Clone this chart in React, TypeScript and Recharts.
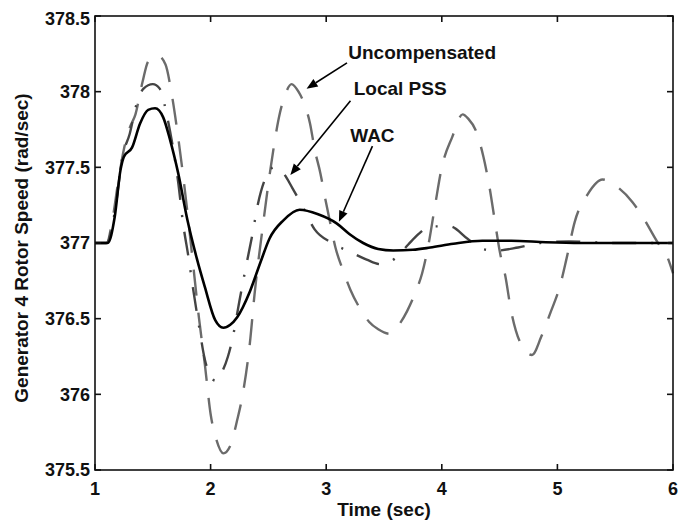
import { LineChart, Line, XAxis, YAxis, ReferenceLine, ReferenceDot, Label } from "recharts";

// time (sec) / rotor speed (rad/sec)
const uncompTime = [1.0, 1.1, 1.15, 1.2, 1.25, 1.3, 1.35, 1.41, 1.46, 1.54, 1.61, 1.66, 1.71, 1.75, 1.8, 1.85, 1.9, 1.95, 2.0, 2.05, 2.11, 2.17, 2.23, 2.28, 2.34, 2.38, 2.45, 2.52, 2.6, 2.65, 2.7, 2.76, 2.82, 2.86, 2.9, 2.95, 2.99, 3.03, 3.08, 3.14, 3.21, 3.29, 3.37, 3.45, 3.55, 3.62, 3.7, 3.77, 3.83, 3.88, 3.94, 4.0, 4.09, 4.18, 4.23, 4.29, 4.36, 4.41, 4.46, 4.5, 4.55, 4.6, 4.68, 4.78, 4.86, 4.94, 5.02, 5.08, 5.15, 5.26, 5.39, 5.5, 5.65, 5.74, 5.87, 5.95, 6.0];
const uncompSpeed = [377.0, 377.0, 377.15, 377.4, 377.62, 377.76, 377.85, 378.06, 378.2, 378.24, 378.18, 378.0, 377.75, 377.52, 377.2, 376.85, 376.5, 376.2, 375.87, 375.7, 375.61, 375.66, 375.83, 376.01, 376.34, 376.66, 377.1, 377.5, 377.86, 377.99, 378.05, 378.0, 377.9, 377.79, 377.62, 377.46, 377.3, 377.15, 376.97, 376.83, 376.69, 376.57, 376.48, 376.43, 376.4, 376.45, 376.55, 376.67, 376.8, 376.97, 377.24, 377.5, 377.7, 377.85, 377.82, 377.75, 377.57, 377.38, 377.14, 376.95, 376.78, 376.55, 376.34, 376.26, 376.38, 376.54, 376.71, 376.9, 377.14, 377.32, 377.42, 377.38, 377.27, 377.17, 377.0, 376.91, 376.8];

const pssTime = [1.0, 1.1, 1.17, 1.24, 1.3, 1.36, 1.42, 1.5, 1.56, 1.62, 1.67, 1.72, 1.76, 1.81, 1.85, 1.9, 1.95, 2.0, 2.04, 2.1, 2.15, 2.19, 2.25, 2.3, 2.36, 2.41, 2.47, 2.55, 2.62, 2.71, 2.79, 2.9, 3.05, 3.21, 3.35, 3.47, 3.6, 3.71, 3.8, 3.9, 4.07, 4.22, 4.35, 4.47, 4.66, 4.85, 5.1, 5.5, 6.0];
const pssSpeed = [377.0, 377.0, 377.2, 377.58, 377.72, 377.92, 378.02, 378.05, 378.02, 377.85, 377.65, 377.4, 377.14, 376.9, 376.69, 376.45, 376.23, 376.12, 376.09, 376.15, 376.25, 376.37, 376.62, 376.82, 377.05, 377.26, 377.42, 377.5, 377.47, 377.36, 377.25, 377.09, 377.0, 376.94, 376.89, 376.86, 376.9, 376.99, 377.06, 377.11, 377.11, 377.03, 376.96, 376.95, 376.97, 377.0, 377.01, 377.0, 377.0];

const wacTime = [1.0, 1.11, 1.17, 1.22, 1.25, 1.32, 1.39, 1.46, 1.52, 1.59, 1.65, 1.72, 1.8, 1.88, 1.95, 2.04, 2.11, 2.17, 2.23, 2.34, 2.43, 2.51, 2.63, 2.77, 2.93, 3.09, 3.2, 3.32, 3.45, 3.58, 3.75, 3.9, 4.1, 4.35, 4.6, 4.9, 5.2, 6.0];
const wacSpeed = [377.0, 377.0, 377.17, 377.48, 377.57, 377.63, 377.79, 377.88, 377.89, 377.83, 377.68, 377.46, 377.15, 376.9, 376.71, 376.49, 376.44, 376.46, 376.51, 376.68, 376.87, 377.03, 377.15, 377.22, 377.19, 377.13, 377.06, 377.0, 376.96, 376.95, 376.955, 376.97, 376.995, 377.015, 377.015, 377.005, 377.0, 377.0];

const xTicks = [1, 2, 3, 4, 5, 6];
const yTicks = [375.5, 376, 376.5, 377, 377.5, 378, 378.5];
const xRange = [1, 6];
const yRange = [375.5, 378.5];

// annotation text positions + arrow segments, in data units
const noteText = ["Uncompensated", "Local PSS", "WAC"];
const noteTextAt = [[3.83, 378.26], [3.64, 378.02], [3.4, 377.71]];
const noteArrows = [
  [[3.18, 378.19], [2.83, 378.02]],
  [[3.21, 377.94], [2.69, 377.45]],
  [[3.4, 377.64], [3.11, 377.14]],
];

const zip = (t: number[], v: number[]) => t.map((x, i) => ({ t: x, v: v[i] }));
const uncompData = zip(uncompTime, uncompSpeed);
const pssData = zip(pssTime, pssSpeed);
const wacData = zip(wacTime, wacSpeed);

const FONT = "'Liberation Sans', Arial, sans-serif";
const axisColor = "#111";
const TICK = 6;

// chart box and margins; the plot area follows from these
const W = 684;
const H = 515;
const margin = { top: 8, right: 19, left: 27, bottom: 23 };
const Y_AXIS_W = 60;
const X_AXIS_H = 30;
const plot = {
  left: margin.left + Y_AXIS_W,
  top: margin.top,
  width: W - margin.left - Y_AXIS_W - margin.right,
  height: H - margin.top - margin.bottom - X_AXIS_H,
};

function Arrow(props: any) {
  const { x1, y1, x2, y2 } = props;
  const a = Math.atan2(y2 - y1, x2 - x1);
  const len = 11;
  const w = 4.5;
  const bx = x2 - len * Math.cos(a);
  const by = y2 - len * Math.sin(a);
  const px = -Math.sin(a) * w;
  const py = Math.cos(a) * w;
  return (
    <g>
      <line x1={x1} y1={y1} x2={bx} y2={by} stroke="#000" strokeWidth={1.6} />
      <polygon points={`${x2},${y2} ${bx + px},${by + py} ${bx - px},${by - py}`} fill="#000" />
    </g>
  );
}

// box around the plot with inward ticks on all four sides (matlab style)
function FrameOverlay() {
  const sx = (t: number) => plot.left + ((t - xRange[0]) / (xRange[1] - xRange[0])) * plot.width;
  const sy = (v: number) => plot.top + ((yRange[1] - v) / (yRange[1] - yRange[0])) * plot.height;
  const bottom = plot.top + plot.height;
  const right = plot.left + plot.width;
  return (
    <svg
      width={W}
      height={H}
      style={{ position: "absolute", left: 0, top: 0, pointerEvents: "none" }}
    >
      <g stroke={axisColor} strokeWidth={1.6} fill="none">
        <rect x={plot.left} y={plot.top} width={plot.width} height={plot.height} />
        {xTicks.map((t) => (
          <g key={`xt-${t}`}>
            <line x1={sx(t)} y1={bottom} x2={sx(t)} y2={bottom - TICK} />
            <line x1={sx(t)} y1={plot.top} x2={sx(t)} y2={plot.top + TICK} />
          </g>
        ))}
        {yTicks.map((v) => (
          <g key={`yt-${v}`}>
            <line x1={plot.left} y1={sy(v)} x2={plot.left + TICK} y2={sy(v)} />
            <line x1={right} y1={sy(v)} x2={right - TICK} y2={sy(v)} />
          </g>
        ))}
      </g>
    </svg>
  );
}

export default function App() {
  return (
    <div style={{ position: "relative", width: W, height: H }}>
      <LineChart width={W} height={H} margin={margin}>
        <XAxis
          dataKey="t"
          type="number"
          domain={xRange}
          ticks={xTicks}
          height={X_AXIS_H}
          axisLine={false}
          tickLine={false}
          tickSize={-TICK}
          tickMargin={18}
          tick={{ fill: "#111", fontSize: 18, fontWeight: 700, fontFamily: FONT }}
        >
          <Label
            value="Time (sec)"
            position="insideBottom"
            offset={-16}
            style={{ fill: "#111", fontSize: 19, fontWeight: 700, fontFamily: FONT }}
          />
        </XAxis>
        <YAxis
          type="number"
          domain={yRange}
          ticks={yTicks}
          width={Y_AXIS_W}
          axisLine={false}
          tickLine={false}
          tickSize={-TICK}
          tickMargin={11}
          tick={{ fill: "#111", fontSize: 18, fontWeight: 700, fontFamily: FONT }}
        >
          <Label
            content={(p: any) => {
              const vb = p.viewBox;
              const cx = vb.x - 14;
              const cy = vb.y + vb.height / 2 + 5;
              return (
                <text
                  x={cx}
                  y={cy}
                  transform={`rotate(-90, ${cx}, ${cy})`}
                  textAnchor="middle"
                  dominantBaseline="central"
                  fill="#111"
                  fontSize={19}
                  fontWeight={700}
                  fontFamily={FONT}
                >
                  Generator 4 Rotor Speed (rad/sec)
                </text>
              );
            }}
          />
        </YAxis>
        <Line
          data={uncompData}
          dataKey="v"
          type="monotone"
          stroke="#6b6b6b"
          strokeWidth={2.4}
          strokeDasharray="26 17"
          dot={false}
          isAnimationActive={false}
        />
        <Line
          data={pssData}
          dataKey="v"
          type="monotone"
          stroke="#444"
          strokeWidth={2.4}
          strokeDasharray="24 15 2 15"
          dot={false}
          isAnimationActive={false}
        />
        <Line
          data={wacData}
          dataKey="v"
          type="monotone"
          stroke="#000"
          strokeWidth={2.6}
          dot={false}
          isAnimationActive={false}
        />
        {noteArrows.map((seg, i) => (
          <ReferenceLine
            key={`arrow-${i}`}
            segment={[
              { x: seg[0][0], y: seg[0][1] },
              { x: seg[1][0], y: seg[1][1] },
            ]}
            ifOverflow="visible"
            shape={(p: any) => <Arrow {...p} />}
          />
        ))}
        {noteText.map((txt, i) => (
          <ReferenceDot
            key={`note-${i}`}
            x={noteTextAt[i][0]}
            y={noteTextAt[i][1]}
            r={0}
            ifOverflow="visible"
            shape={(p: any) => (
              <text
                x={p.cx}
                y={p.cy}
                textAnchor="middle"
                dominantBaseline="central"
                fill="#111"
                fontSize={19}
                fontWeight={700}
                fontFamily={FONT}
              >
                {txt}
              </text>
            )}
          />
        ))}
      </LineChart>
      <FrameOverlay />
    </div>
  );
}
